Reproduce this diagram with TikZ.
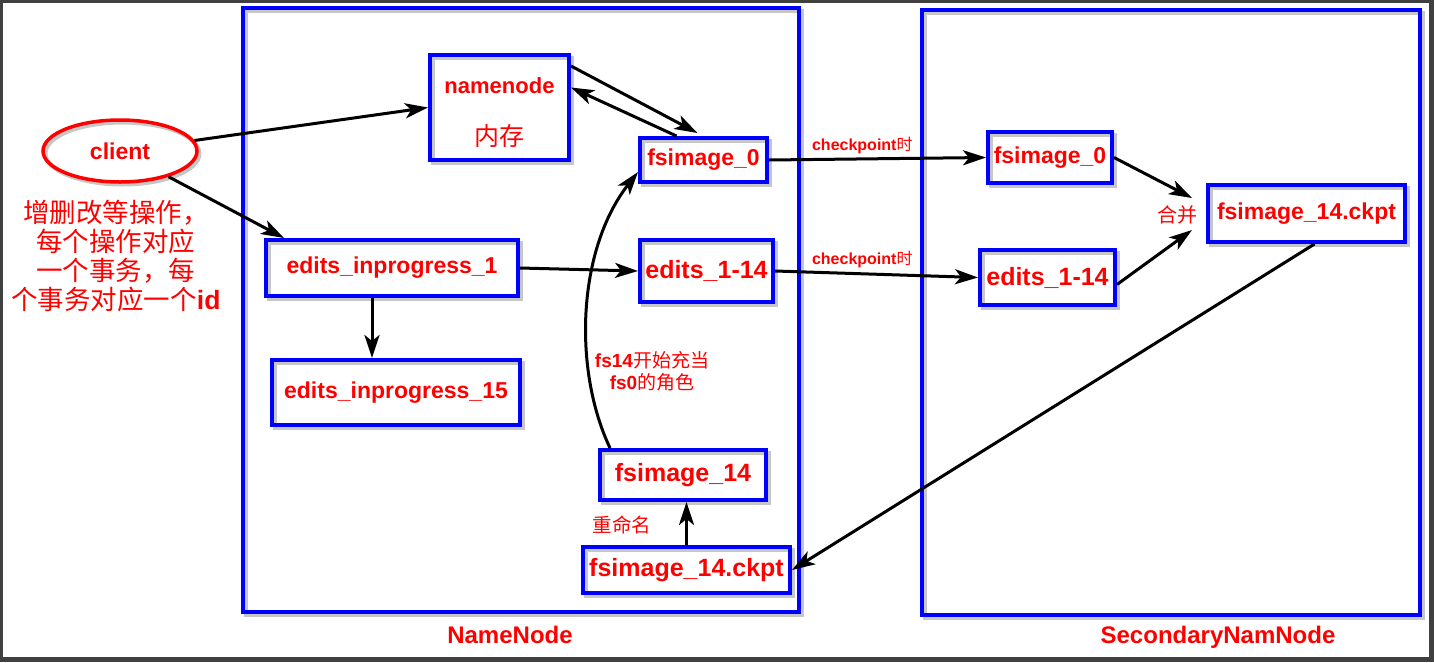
\documentclass[tikz,border=0pt]{standalone}
\usepackage{fontspec}
\setmainfont{Liberation Sans}
\newfontfamily\cjk{Noto Sans CJK SC}
\usetikzlibrary{arrows.meta,shapes.geometric}

\tikzset{
  shade box/.style={preaction={draw=black!22, line width=4pt,
    transform canvas={shift={(2.5pt,-2.5pt)}}}},
  areabox/.style={draw=blue, line width=4pt, inner sep=0pt, shade box},
  box/.style={draw=blue, line width=4pt, inner sep=0pt, text=red, shade box,
    font=\bfseries\fontsize{23}{25}\selectfont},
  bigtext/.style={font=\bfseries\fontsize{25}{27}\selectfont},
  title/.style={text=red, inner sep=1pt, font=\bfseries\fontsize{24}{26}\selectfont},
  lbl/.style={text=red, inner sep=1pt},
  note/.style={text=red, inner sep=1pt, align=center},
  clientnode/.style={ellipse, draw=red, line width=3.5pt, text=red,
    minimum width=154pt, minimum height=62pt, inner sep=0pt, shade box,
    font=\bfseries\fontsize{23}{25}\selectfont},
  arr/.style={line width=3pt, -{Stealth[length=23pt,width=15pt,inset=6pt]}},
}

\begin{document}
\begin{tikzpicture}[x=1pt, y=-1pt]
  \useasboundingbox (0,0) rectangle (1434,662);
  %marco
  \fill[black!75] (0,0) rectangle (1434,662);
  \fill[white] (3,3) rectangle (1429,657);

  %NameNode y SecondaryNamNode
  \node[areabox, minimum width=556pt, minimum height=604pt] (nnarea) at (521,310) {};
  \node[title] (nntitle) at (510,635) {NameNode};
  \node[areabox, minimum width=498pt, minimum height=605pt] (snnarea) at (1171,312.5) {};
  \node[title] (snntitle) at (1218,637) {SecondaryNamNode};

  %client
  \node[clientnode] (client) at (120,151) {client};
  \node[note, font=\cjk\fontsize{26.5}{29}\selectfont] (clientnote) at (116,256)
    {增删改等操作，\\每个操作对应\\一个事务，每\\个事务对应一个{\rmfamily\bfseries id}};

  %namenode
  \node[box, minimum width=139pt, minimum height=105pt] (nn) at (499.5,107.5) {};
  \node[lbl, font=\bfseries\fontsize{22}{24}\selectfont] (nnname) at (499.5,86) {namenode};
  \node[lbl, font=\cjk\fontsize{25}{27}\selectfont] (nnmem) at (499.5,136) {内存};

  %cajas NameNode
  \node[box, minimum width=127pt, minimum height=44pt] (fs0) at (703.5,160) {fsimage\_0};
  \node[box, bigtext, minimum width=133pt, minimum height=62pt] (e114) at (706.5,271) {edits\_1-14};
  \node[box, minimum width=252pt, minimum height=56pt] (ip1) at (392,268) {edits\_inprogress\_1};
  \node[box, minimum width=248pt, minimum height=65pt] (ip15) at (396,392.5) {edits\_inprogress\_15};
  \node[box, bigtext, minimum width=166pt, minimum height=50pt] (fs14) at (683,475) {fsimage\_14};
  \node[box, bigtext, minimum width=207pt, minimum height=46pt] (nck) at (686.5,570) {fsimage\_14.ckpt};

  %cajas SecondaryNamNode
  \node[box, minimum width=124pt, minimum height=51pt] (sfs0) at (1050,157.5) {fsimage\_0};
  \node[box, bigtext, minimum width=135pt, minimum height=55pt] (se114) at (1047.5,277.5) {edits\_1-14};
  \node[box, minimum width=197pt, minimum height=57pt] (sck) at (1306.5,213.5) {fsimage\_14.ckpt};

  %textos
  \node[lbl, font=\cjk\fontsize{20}{22}\selectfont] (merge) at (1177,215) {合并};
  \coordinate (mergetop) at (1192,198);
  \coordinate (mergebot) at (1192,230);
  \node[lbl, align=center, font=\fontsize{19}{22}\selectfont] (fsrole) at (652,371)
    {{\bfseries fs14}{\cjk 开始充当}\\{\bfseries fs0}{\cjk 的角色}};
  \node[lbl, font=\cjk\fontsize{19.5}{21}\selectfont] (rename) at (622,525) {重命名};

  %flechas
  \draw[arr] (client) -- (nn.west);
  \draw[arr] (client) -- ([xshift=20pt]ip1.north west);
  \draw[arr] ([yshift=-13pt]nn.north east) -- ([xshift=-6pt,yshift=3pt]fs0.north);
  \draw[arr] ([xshift=-27pt]fs0.north) -- ([yshift=20pt]nn.east);
  \draw[arr] (ip1.east) -- (e114.west);
  \draw[arr] ([xshift=-20pt]ip1.south) -- ([xshift=-24pt]ip15.north);
  \draw[arr] (fs0.east) -- node[pos=0.43, above=3pt, lbl, font=\fontsize{16}{18}\selectfont] (cp1)
    {{\bfseries checkpoint}{\cjk 时}} (sfs0.west);
  \draw[arr] (e114.east) -- node[pos=0.43, above=3pt, lbl, font=\fontsize{16}{18}\selectfont] (cp2)
    {{\bfseries checkpoint}{\cjk 时}} (se114.west);
  \draw[arr] (sfs0.east) -- (mergetop);
  \draw[arr] ([yshift=-7pt]se114.east) -- (mergebot);
  \draw[arr] ([xshift=8pt]sck.south) -- (nck.east);
  \draw[arr] (nck.north) -- (nck.north |- fs14.south);
  \draw[arr] ([xshift=12pt]fs14.north west) .. controls +(-37,-78) and +(-61,78) .. ([yshift=-12pt]fs0.west);
\end{tikzpicture}
\end{document}
